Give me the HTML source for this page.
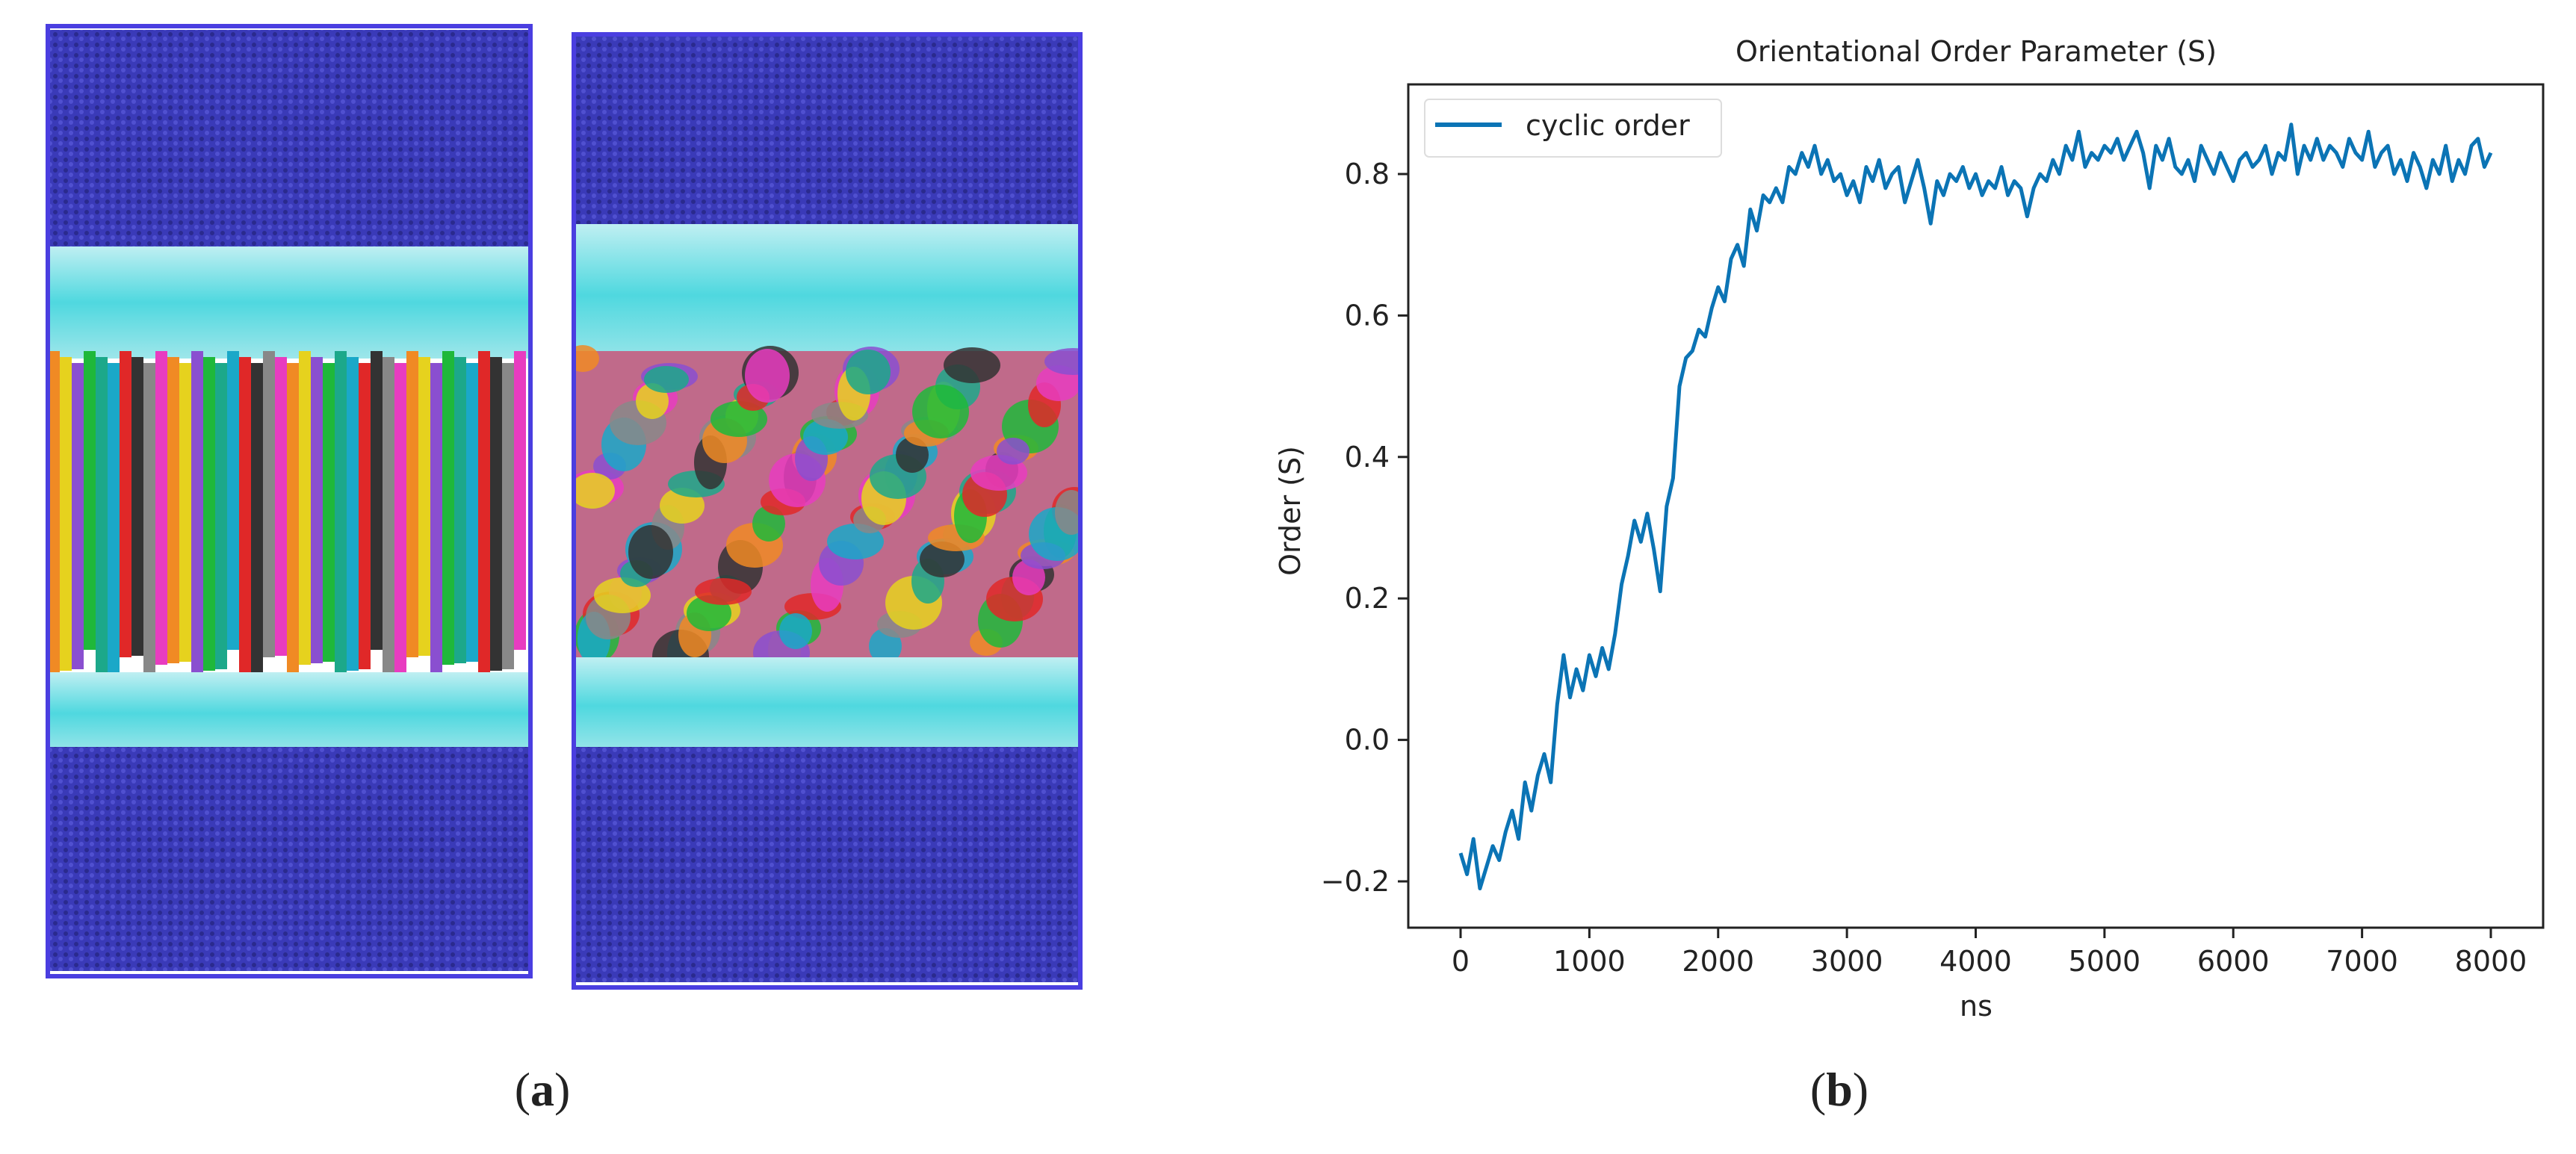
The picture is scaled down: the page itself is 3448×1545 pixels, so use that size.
<!DOCTYPE html>
<html><head><meta charset="utf-8"><style>
html,body{margin:0;padding:0;background:#fff;}
svg{display:block;}
text{font-family:"DejaVu Sans","Liberation Sans",sans-serif;fill:#222;}
</style></head><body>
<svg id="fig" width="3448" height="1545" viewBox="0 0 3448 1545">
<defs>
<pattern id="dots" width="14" height="14" patternUnits="userSpaceOnUse">
<rect width="14" height="14" fill="#3a3ab8"/><circle cx="4" cy="4" r="3" fill="#2a2a8e"/><circle cx="11" cy="10" r="3" fill="#5050d0"/>
</pattern>
<linearGradient id="cy" x1="0" y1="0" x2="0" y2="1"><stop offset="0" stop-color="#bfeff2"/><stop offset="0.5" stop-color="#4fd8df"/><stop offset="1" stop-color="#9ee6ea"/></linearGradient>
<clipPath id="clipB"><rect x="768" y="460" width="676" height="440"/></clipPath>
</defs>
<g id="panel-a">
<g>
<rect x="64" y="40" width="644" height="300" fill="url(#dots)"/>
<rect x="64" y="330" width="644" height="150" fill="url(#cy)"/>
<g id="stripesA"></g>
<rect x="64" y="900" width="644" height="110" fill="url(#cy)"/>
<rect x="64" y="1000" width="644" height="300" fill="url(#dots)"/>
<rect x="64" y="35" width="646" height="1272" fill="none" stroke="#4a3ee0" stroke-width="6"/>
</g>
<g>
<rect x="768" y="48" width="676" height="270" fill="url(#dots)"/>
<rect x="768" y="300" width="676" height="190" fill="url(#cy)"/>
<g id="blobsB" clip-path="url(#clipB)"></g>
<rect x="768" y="880" width="676" height="130" fill="url(#cy)"/>
<rect x="768" y="1000" width="676" height="315" fill="url(#dots)"/>
<rect x="768" y="46" width="678" height="1276" fill="none" stroke="#4a3ee0" stroke-width="6"/>
</g>
<text x="726" y="1480" text-anchor="middle" style="font-family:'Liberation Serif',serif;font-size:64px;">(<tspan font-weight="bold">a</tspan>)</text>
</g>
<g id="panel-b">
<text x="2645" y="82" text-anchor="middle" font-size="38">Orientational Order Parameter (S)</text>
<g id="ticks"></g>
<clipPath id="clip"><rect x="1885" y="113" width="1519" height="1129"/></clipPath>
<path id="series" clip-path="url(#clip)" fill="none" stroke="#0b74b5" stroke-width="5" stroke-linejoin="round"/>
<rect x="1885" y="113" width="1519" height="1129" fill="none" stroke="#222" stroke-width="3"/>
<g>
<rect x="1907" y="133" width="397" height="77" rx="6" fill="#fff" stroke="#ddd" stroke-width="2"/>
<line x1="1921" y1="167" x2="2010" y2="167" stroke="#0b74b5" stroke-width="6"/>
<text x="2042" y="181" font-size="38">cyclic order</text>
</g>
<text x="2645" y="1360" text-anchor="middle" font-size="38">ns</text>
<text transform="translate(1740,684) rotate(-90)" text-anchor="middle" font-size="38">Order (S)</text>
<text x="2462" y="1480" text-anchor="middle" style="font-family:'Liberation Serif',serif;font-size:64px;">(<tspan font-weight="bold">b</tspan>)</text>
</g>
</svg>
<script>
const xTicks=[0,1000,2000,3000,4000,5000,6000,7000,8000];
const yTicks=[-0.2,0.0,0.2,0.4,0.6,0.8];
const yTickLabels=["\u22120.2","0.0","0.2","0.4","0.6","0.8"];
const timeStep=50;
const orderValues=[-0.16,-0.19,-0.14,-0.21,-0.18,-0.15,-0.17,-0.13,-0.10,-0.14,-0.06,-0.10,-0.05,-0.02,-0.06,0.05,0.12,0.06,0.10,0.07,0.12,0.09,0.13,0.10,0.15,0.22,0.26,0.31,0.28,0.32,0.27,0.21,0.33,0.37,0.50,0.54,0.55,0.58,0.57,0.61,0.64,0.62,0.68,0.70,0.67,0.75,0.72,0.77,0.76,0.78,0.76,0.81,0.80,0.83,0.81,0.84,0.80,0.82,0.79,0.80,0.77,0.79,0.76,0.81,0.79,0.82,0.78,0.80,0.81,0.76,0.79,0.82,0.78,0.73,0.79,0.77,0.80,0.79,0.81,0.78,0.80,0.77,0.79,0.78,0.81,0.77,0.79,0.78,0.74,0.78,0.80,0.79,0.82,0.80,0.84,0.82,0.86,0.81,0.83,0.82,0.84,0.83,0.85,0.82,0.84,0.86,0.83,0.78,0.84,0.82,0.85,0.81,0.80,0.82,0.79,0.84,0.82,0.80,0.83,0.81,0.79,0.82,0.83,0.81,0.82,0.84,0.80,0.83,0.82,0.87,0.80,0.84,0.82,0.85,0.82,0.84,0.83,0.81,0.85,0.83,0.82,0.86,0.81,0.83,0.84,0.80,0.82,0.79,0.83,0.81,0.78,0.82,0.80,0.84,0.79,0.82,0.80,0.84,0.85,0.81,0.83];
const NS="http://www.w3.org/2000/svg";
function xs(v){return 1955+(v-0)*(3334-1955)/8000;}
function ys(v){return 233+(0.8-v)*947;}
const tg=document.getElementById('ticks');
xTicks.forEach(function(t){
  const l=document.createElementNS(NS,'line');
  l.setAttribute('x1',xs(t));l.setAttribute('x2',xs(t));l.setAttribute('y1',1242);l.setAttribute('y2',1256);
  l.setAttribute('stroke','#222');l.setAttribute('stroke-width','3');
  
  
  tg.appendChild(l);
  const tx=document.createElementNS(NS,'text');
  tx.setAttribute('x',xs(t));tx.setAttribute('y',1300);tx.setAttribute('text-anchor','middle');tx.setAttribute('font-size','38');
  tx.textContent=String(t);
  
  
  tg.appendChild(tx);
});
yTicks.forEach(function(t,i){
  const l=document.createElementNS(NS,'line');
  l.setAttribute('x1',1871);l.setAttribute('x2',1885);l.setAttribute('y1',ys(t));l.setAttribute('y2',ys(t));
  l.setAttribute('stroke','#222');l.setAttribute('stroke-width','3');
  
  
  tg.appendChild(l);
  const tx=document.createElementNS(NS,'text');
  tx.setAttribute('x',1860);tx.setAttribute('y',ys(t)+13);tx.setAttribute('text-anchor','end');tx.setAttribute('font-size','38');
  tx.textContent=yTickLabels[i];
  
  
  tg.appendChild(tx);
});
let d='';
orderValues.forEach(function(v,i){d+=(i?'L':'M')+xs(i*timeStep).toFixed(1)+','+ys(v).toFixed(1);});
document.getElementById('series').setAttribute('d',d);
// decorative snapshot texture
const cols=['#f08a24','#1fb83a','#e02828','#e83cc0','#8a4fd0','#1aa8c8','#888','#e6d21e','#1ca88a','#333'];
const sa=document.getElementById('stripesA');
for(let i=0;i<40;i++){
  const r=document.createElementNS(NS,'rect');
  r.setAttribute('x',64+i*16);r.setAttribute('y',470+(i%3)*8);r.setAttribute('width',16);r.setAttribute('height',430-(i%4)*10);
  r.setAttribute('fill',cols[(i*7)%cols.length]);
  
  
  sa.appendChild(r);
}
const sb=document.getElementById('blobsB');
const bg=document.createElementNS(NS,'rect');
bg.setAttribute('x',768);bg.setAttribute('y',470);bg.setAttribute('width',676);bg.setAttribute('height',420);bg.setAttribute('fill','#c06a8a');


sb.appendChild(bg);
for(let i=0;i<110;i++){
  const c=document.createElementNS(NS,'ellipse');
  c.setAttribute('cx',780+((i*97)%660));c.setAttribute('cy',480+((i*53)%400));c.setAttribute('rx',22+(i%3)*8);c.setAttribute('ry',18+(i%4)*6);
  c.setAttribute('fill',cols[(i*3)%cols.length]);
  c.setAttribute('opacity','0.85');
  
  
  sb.appendChild(c);
}
</script>
</body></html>
